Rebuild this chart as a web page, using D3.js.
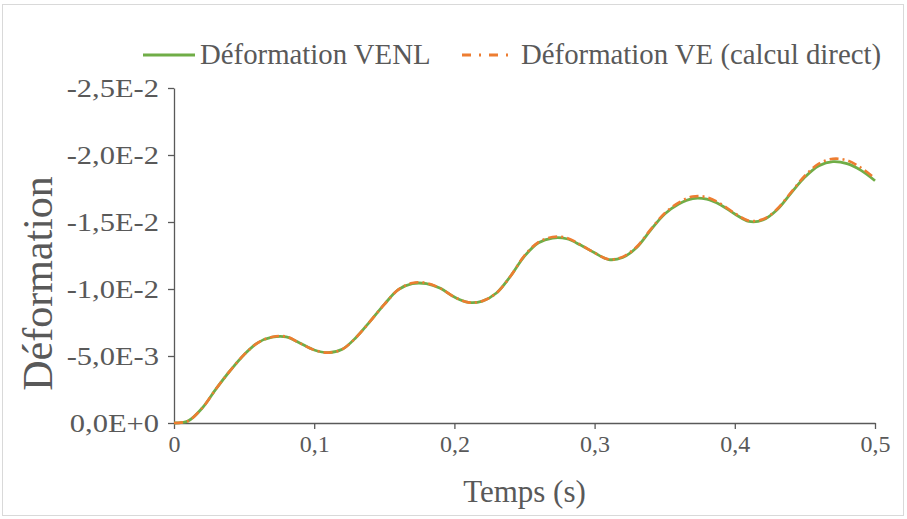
<!DOCTYPE html>
<html>
<head>
<meta charset="utf-8">
<script src="https://cdn.jsdelivr.net/npm/d3@7"></script>
<style>
  body { margin: 0; background: #fff; }
  text { font-family: "Liberation Serif", "Times New Roman", serif; fill: #595959; }
</style>
</head>
<body>
<svg id="chart"></svg>
<script>
// time (s)
const temps = [0, 0.01, 0.02, 0.03, 0.04, 0.05, 0.06, 0.07, 0.08, 0.09,
  0.10, 0.11, 0.12, 0.13, 0.14, 0.15, 0.16, 0.17, 0.18, 0.19,
  0.20, 0.21, 0.22, 0.23, 0.24, 0.25, 0.26, 0.27, 0.28, 0.29,
  0.30, 0.31, 0.32, 0.33, 0.34, 0.35, 0.36, 0.37, 0.38, 0.39,
  0.40, 0.41, 0.42, 0.43, 0.44, 0.45, 0.46, 0.47, 0.48, 0.49, 0.50];

// deformation (x1e-3)
const venl = [0, -0.15, -1.1, -2.55, -3.9, -5.1, -6.0, -6.4, -6.42, -5.95,
  -5.45, -5.25, -5.5, -6.4, -7.6, -8.85, -9.95, -10.4, -10.4, -10.05,
  -9.4, -9.0, -9.1, -9.7, -10.95, -12.45, -13.45, -13.8, -13.75, -13.28,
  -12.7, -12.2, -12.35, -13.1, -14.4, -15.6, -16.35, -16.75, -16.7, -16.27,
  -15.6, -15.05, -15.15, -15.9, -17.14, -18.35, -19.2, -19.5, -19.35, -18.85, -18.08];

const ve = [0, -0.15, -1.1, -2.55, -3.9, -5.1, -6.0, -6.42, -6.45, -5.95,
  -5.45, -5.25, -5.5, -6.4, -7.6, -8.85, -9.95, -10.45, -10.45, -10.05,
  -9.4, -9.0, -9.1, -9.7, -10.95, -12.5, -13.5, -13.88, -13.82, -13.3,
  -12.7, -12.22, -12.4, -13.15, -14.45, -15.65, -16.45, -16.9, -16.85, -16.35,
  -15.65, -15.1, -15.2, -15.95, -17.2, -18.45, -19.35, -19.72, -19.6, -19.05, -18.25];

const xticks = [0, 0.1, 0.2, 0.3, 0.4, 0.5];
const yticks = [0, -0.005, -0.01, -0.015, -0.02, -0.025];
const ylabels = ["0,0E+0", "-5,0E-3", "-1,0E-2", "-1,5E-2", "-2,0E-2", "-2,5E-2"];
const seriesNames = ["Déformation VENL", "Déformation VE (calcul direct)"];

const width = 907, height = 519;
const margin = {top: 88, right: 32, bottom: 96, left: 174};
const innerW = width - margin.left - margin.right;
const innerH = height - margin.top - margin.bottom;
const axisColor = "#595959";

const svg = d3.select("#chart").attr("width", width).attr("height", height);

// outer frame
svg.append("rect")
  .attr("x", 2.5).attr("y", 4.5)
  .attr("width", 901).attr("height", 511)
  .attr("fill", "#fff").attr("stroke", "#d9d9d9");

const chart = svg.append("g")
  .attr("transform", `translate(${margin.left}, ${margin.top})`);

const xscale = d3.scaleLinear().domain([0, 0.5]).range([0, innerW]);
const yscale = d3.scaleLinear().domain([0, -0.025]).range([innerH, 0]);

const xaxis = d3.axisBottom(xscale)
  .tickValues(xticks)
  .tickFormat(d => d === 0 ? "0" : String(d).replace(".", ","))
  .tickSize(6).tickSizeOuter(0).tickPadding(6);

const yaxis = d3.axisLeft(yscale)
  .tickValues(yticks)
  .tickFormat((d, i) => ylabels[i])
  .tickSize(6).tickSizeOuter(0).tickPadding(9);

const xg = chart.append("g")
  .attr("transform", `translate(0, ${innerH})`)
  .call(xaxis);
const yg = chart.append("g").call(yaxis);

[xg, yg].forEach(g => {
  g.selectAll("path, line").attr("stroke", axisColor).attr("stroke-width", 1.3);
  g.selectAll("text").attr("fill", axisColor)
    .style("font-family", "'Liberation Serif', serif");
});
xg.selectAll("text").style("font-size", "24px");
yg.selectAll("text").style("font-size", "25px")
  .attr("textLength", function () { return this.getComputedTextLength() * 1.22; })
  .attr("lengthAdjust", "spacingAndGlyphs");

// lines
const pts = (ys) => temps.map((t, i) => ({t: t, v: ys[i] * 1e-3}));
const line = d3.line()
  .x(d => xscale(d.t))
  .y(d => yscale(d.v))
  .curve(d3.curveCatmullRom);

chart.append("path")
  .datum(pts(venl))
  .attr("fill", "none")
  .attr("stroke", "#70ad47")
  .attr("stroke-width", 2.8)
  .attr("d", line);

chart.append("path")
  .datum(pts(ve))
  .attr("fill", "none")
  .attr("stroke", "#ed7d31")
  .attr("stroke-width", 2.6)
  .attr("stroke-dasharray", "9,4,2,4")
  .attr("d", line);

// axis titles
svg.append("text")
  .attr("x", margin.left + innerW / 2)
  .attr("y", 502)
  .attr("text-anchor", "middle")
  .style("font-size", "31px")
  .text("Temps (s)");

svg.append("text")
  .attr("transform", "rotate(-90)")
  .attr("x", -(margin.top + innerH / 2 + 28))
  .attr("y", 52)
  .attr("text-anchor", "middle")
  .style("font-size", "42px")
  .text("Déformation");

// legend
const legend = svg.append("g");
legend.append("line")
  .attr("x1", 143).attr("x2", 195).attr("y1", 55).attr("y2", 55)
  .attr("stroke", "#70ad47").attr("stroke-width", 2.8);
legend.append("text")
  .attr("x", 200).attr("y", 64)
  .style("font-size", "28.8px")
  .text(seriesNames[0]);
legend.append("line")
  .attr("x1", 462).attr("x2", 514).attr("y1", 55).attr("y2", 55)
  .attr("stroke", "#ed7d31").attr("stroke-width", 2.8)
  .attr("stroke-dasharray", "9,8,2,8");
legend.append("text")
  .attr("x", 521).attr("y", 64)
  .style("font-size", "28.8px")
  .text(seriesNames[1]);
</script>
</body>
</html>
